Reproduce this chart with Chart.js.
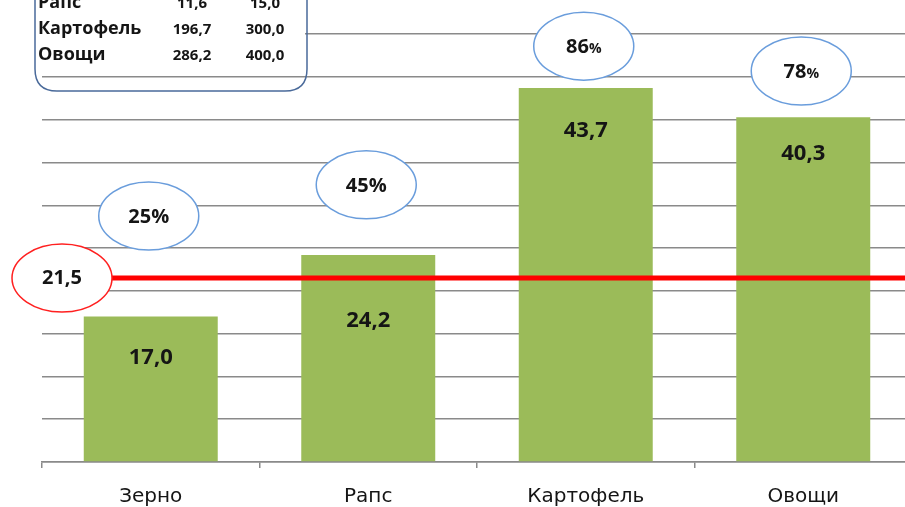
<!DOCTYPE html>
<html>
<head>
<meta charset="utf-8">
<script src="https://cdn.jsdelivr.net/npm/chart.js@4.4.1/dist/chart.umd.min.js"></script>
<style>
  html, body { margin: 0; padding: 0; background: #fff; overflow: hidden; }
  #wrap { position: relative; width: 960px; height: 507px; }
</style>
</head>
<body>
<div id="wrap"><canvas id="bar-chart" width="960" height="507"></canvas></div>
<script>
let categories = ["Зерно", "Рапс", "Картофель", "Овощи"];
let values = [17.0, 24.2, 43.7, 40.3];
let shares = [25, 45, 86, 78];
let average = 21.5;

// the small table in the top-left corner (cut off at the top)
let tableNames = ["Рапс", "Картофель", "Овощи"];
let tableCol1 = ["11,6", "196,7", "286,2"];
let tableCol2 = ["15,0", "300,0", "400,0"];

// label placement
let labelDrop = [41, 66, 43, 37];          // px below the bar top
let bubbleLevel = [28.75, 32.4, 48.6, 45.7]; // y value of each % ellipse centre
let smallPct = [false, false, true, true];

const GRID = "#8a8a8a";
const TXT = "#151515";

let fmt = (v) => v.toFixed(1).replace(".", ",");

function ellipse(ctx, cx, cy, rx, ry, stroke) {
  ctx.save();
  ctx.beginPath();
  ctx.ellipse(cx, cy, rx, ry, 0, 0, Math.PI * 2);
  ctx.fillStyle = "#fff";
  ctx.fill();
  ctx.lineWidth = 1.5;
  ctx.strokeStyle = stroke;
  ctx.stroke();
  ctx.restore();
}

let extras = {
  id: "extras",
  afterDatasetsDraw(chart) {
    let ctx = chart.ctx;
    let y = chart.scales.y;
    let area = chart.chartArea;

    // average line
    let ay = y.getPixelForValue(average);
    let ax = area.left + 20;
    ctx.save();
    ctx.strokeStyle = "#ff0000";
    ctx.lineWidth = 5;
    ctx.beginPath();
    ctx.moveTo(ax, ay);
    ctx.lineTo(chart.width, ay);
    ctx.stroke();
    ctx.restore();

    ellipse(ctx, ax, ay, 50, 34, "#ff2020");
    ctx.save();
    ctx.font = "bold 20px 'Open Sans'";
    ctx.fillStyle = TXT;
    ctx.textAlign = "center";
    ctx.textBaseline = "middle";
    ctx.fillText(fmt(average), ax, ay);
    ctx.restore();

    // values inside the bars
    let meta = chart.getDatasetMeta(0);
    ctx.save();
    ctx.font = "bold 22px 'Open Sans'";
    ctx.fillStyle = TXT;
    ctx.textAlign = "center";
    ctx.textBaseline = "middle";
    meta.data.forEach((bar, i) => {
      ctx.fillText(fmt(values[i]), bar.x, bar.y + labelDrop[i]);
    });
    ctx.restore();

    // share ellipses
    meta.data.forEach((bar, i) => {
      let cx = bar.x - 2;
      let cy = y.getPixelForValue(bubbleLevel[i]);
      ellipse(ctx, cx, cy, 50, 34, "#6a9ddc");
      ctx.save();
      ctx.fillStyle = TXT;
      ctx.textBaseline = "alphabetic";
      let num = String(shares[i]);
      ctx.font = "bold 20px 'Open Sans'";
      let wn = ctx.measureText(num).width;
      let pf = smallPct[i] ? "bold 14px 'Open Sans'" : "bold 20px 'Open Sans'";
      ctx.font = pf;
      let wp = ctx.measureText("%").width;
      let sx = cx - (wn + wp) / 2;
      ctx.font = "bold 20px 'Open Sans'";
      ctx.fillText(num, sx, cy + 7);
      ctx.font = pf;
      ctx.fillText("%", sx + wn, cy + 7);
      ctx.restore();
    });

    // table box
    ctx.save();
    let bl = 35, br = 307, bt = -40, bb = 91, r = 22;
    ctx.fillStyle = "#fff";
    ctx.fillRect(bl + 2, bt, br - bl - 4, 70 - bt);
    ctx.beginPath();
    ctx.moveTo(bl, bt);
    ctx.lineTo(bl, bb - r);
    ctx.quadraticCurveTo(bl, bb, bl + r, bb);
    ctx.lineTo(br - r, bb);
    ctx.quadraticCurveTo(br, bb, br, bb - r);
    ctx.lineTo(br, bt);
    ctx.lineWidth = 1.5;
    ctx.strokeStyle = "#4a6a9a";
    ctx.stroke();
    ctx.fillStyle = TXT;
    ctx.textBaseline = "middle";
    tableNames.forEach((n, i) => {
      let ry = 3 + i * 26;
      ctx.font = "bold 18px 'Open Sans'";
      ctx.textAlign = "left";
      ctx.fillText(n, 38, ry);
      ctx.font = "bold 15px 'Open Sans'";
      ctx.textAlign = "center";
      ctx.fillText(tableCol1[i], 192, ry + 1);
      ctx.fillText(tableCol2[i], 265, ry + 1);
    });
    ctx.restore();
  },
};

let barChart = new Chart(document.getElementById("bar-chart").getContext("2d"), {
  type: "bar",
  data: {
    labels: categories,
    datasets: [
      {
        data: values,
        backgroundColor: "#9bbb59",
        borderWidth: 0,
        barPercentage: 0.616,
        categoryPercentage: 1,
      },
    ],
  },
  options: {
    responsive: false,
    animation: false,
    layout: {
      padding: { left: 42, right: 48, top: 0, bottom: 0 },
    },
    plugins: {
      legend: { display: false },
      tooltip: { enabled: false },
    },
    scales: {
      x: {
        grid: {
          offset: true,
          drawOnChartArea: false,
          color: GRID,
          lineWidth: 1.5,
          tickLength: 6,
        },
        border: { color: GRID, width: 1.5 },
        ticks: {
          color: TXT,
          padding: 17,
          font: { family: "DejaVu Sans", size: 20 },
        },
        afterFit: (s) => {
          s.height = 45;
        },
      },
      y: {
        min: 0,
        max: 54,
        border: { display: false },
        grid: { color: GRID, lineWidth: 1.5, drawTicks: false },
        ticks: { display: false, stepSize: 5 },
        afterBuildTicks: (s) => {
          s.ticks = s.ticks.filter((t) => t.value % 5 === 0);
        },
        afterFit: (s) => {
          s.width = 0;
        },
      },
    },
  },
  plugins: [extras],
});
</script>
</body>
</html>
